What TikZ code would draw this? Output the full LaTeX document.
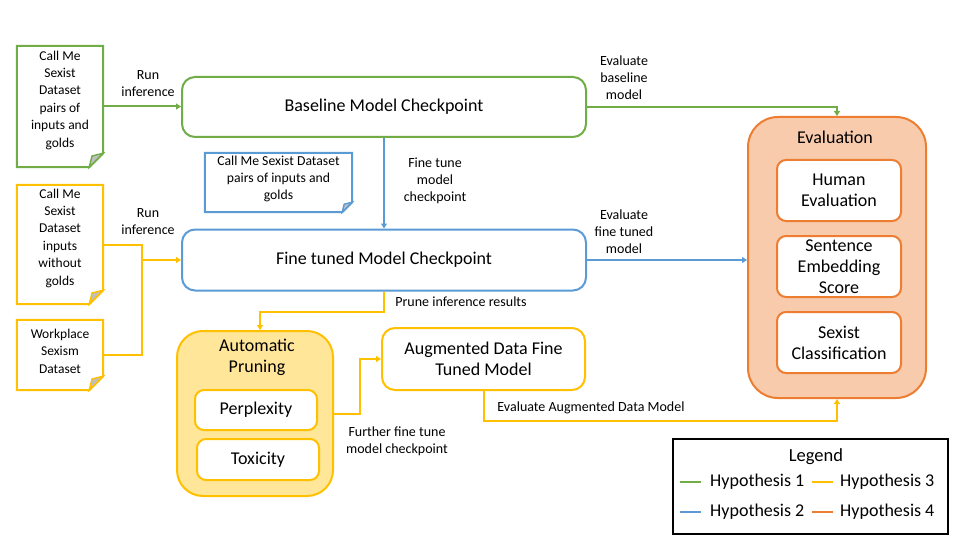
\documentclass[tikz,border=0pt]{standalone}
\usepackage{fontspec}
\setmainfont{Carlito}
\usetikzlibrary{arrows.meta}
\definecolor{cgreen}{HTML}{70AD47}
\definecolor{cblue}{HTML}{5B9BD5}
\definecolor{cyellow}{HTML}{FFC000}
\definecolor{corange}{HTML}{ED7D31}
\definecolor{cyfill}{HTML}{FFE699}
\definecolor{cofill}{HTML}{F8CBAD}
\definecolor{cfold}{HTML}{BFBFBF}
\tikzset{
  bigtxt/.style={font=\fontsize{18}{21}\selectfont, align=center},
  lbl/.style={font=\fontsize{14}{17}\selectfont, align=center, inner sep=0pt},
  doctxt/.style={font=\fontsize{13.5}{17.4}\selectfont, align=center, inner sep=0pt},
  legtxt/.style={font=\fontsize{18}{21}\selectfont, anchor=west, inner sep=0pt},
  mbox/.style={line width=2pt, rounded corners=13pt, fill=white, inner sep=0pt, bigtxt},
  sbox/.style={line width=2pt, rounded corners=9pt, fill=white, inner sep=0pt, bigtxt},
  cont/.style={line width=2pt, inner sep=0pt},
  conn/.style={line width=2pt},
  arr/.style={conn, -{Triangle[width=6pt,length=5pt]}},
}
\newcommand{\docshape}[3]{% node, colour, fold
  \draw[#2, line width=2pt, fill=white] (#1.north west) -- (#1.north east) -- ([yshift=#3]#1.south east) -- ([xshift=-#3]#1.south east) -- (#1.south west) -- cycle;
  \draw[#2, line width=1.4pt, fill=cfold] ([yshift=#3]#1.south east) -- ([xshift=-#3]#1.south east) -- ([xshift=-0.8*#3, yshift=0.8*#3]#1.south east) -- cycle;
}
\begin{document}
\begin{tikzpicture}[x=1pt, y=-1pt]
\useasboundingbox (0,0) rectangle (960,540);

% documents (frames)
\node[minimum width=86pt, minimum height=121pt, inner sep=0pt] (d1) at (60,106.5) {};
\node[minimum width=86pt, minimum height=119pt, inner sep=0pt] (d2) at (60,244.5) {};
\node[minimum width=86pt, minimum height=70pt, inner sep=0pt] (d3) at (60,355) {};
\node[minimum width=147pt, minimum height=59pt, inner sep=0pt] (d4) at (278.5,182.5) {};
\docshape{d1}{cgreen}{14pt}
\docshape{d2}{cyellow}{14pt}
\docshape{d3}{cyellow}{14pt}
\docshape{d4}{cblue}{10pt}
\node[doctxt] (t1) at (60,100) {Call Me\\Sexist\\Dataset\\pairs of\\inputs and\\golds};
\node[doctxt] (t2) at (60,238) {Call Me\\Sexist\\Dataset\\inputs\\without\\golds};
\node[doctxt] (t3) at (60,351) {Workplace\\Sexism\\Dataset};
\node[lbl, font=\fontsize{13.7}{17}\selectfont] (t4) at (278.5,179) {Call Me Sexist Dataset\\pairs of inputs and\\golds};

% main boxes
\node[mbox, draw=cgreen, minimum width=404pt, minimum height=60pt] (base) at (384,107) {Baseline Model Checkpoint};
\node[mbox, draw=cblue, minimum width=404pt, minimum height=61pt] (ft) at (384,260) {Fine tuned Model Checkpoint};
\node[mbox, draw=cyellow, minimum width=203pt, minimum height=62pt] (aug) at (483.5,359) {Augmented Data Fine\\Tuned Model};

% pruning container
\node[cont, draw=cyellow, fill=cyfill, rounded corners=26pt, minimum width=156pt, minimum height=165pt] (prun) at (255,413.5) {};
\node[bigtxt, inner sep=0pt] (prunt) at (257,357) {Automatic\\Pruning};
\node[sbox, draw=cyellow, minimum width=122pt, minimum height=40pt] (perp) at (256,410) {Perplexity};
\node[sbox, draw=cyellow, minimum width=122pt, minimum height=41pt] (tox) at (258,459.5) {Toxicity};

% evaluation container
\node[cont, draw=corange, fill=cofill, rounded corners=30pt, minimum width=178pt, minimum height=281pt] (eval) at (837,257.5) {};
\node[bigtxt, inner sep=0pt] (evalt) at (835,137) {Evaluation};
\node[sbox, draw=corange, minimum width=124pt, minimum height=61pt] (hum) at (839,190.5) {Human\\Evaluation};
\node[sbox, draw=corange, minimum width=124pt, minimum height=61pt] (sent) at (839,266.5) {Sentence\\Embedding\\Score};
\node[sbox, draw=corange, minimum width=124pt, minimum height=61pt] (sex) at (839,342.5) {Sexist\\Classification};

% connectors
\draw[arr, cgreen] (d1.east) -- (d1.east -| base.west);
\draw[arr, cgreen] (base.east) -| (eval.north);
\draw[arr, cblue] (base.south) -- (ft.north);
\draw[arr, cblue] (ft.east) -- (ft.east -| eval.west);
\coordinate (j) at (142,0);
\draw[conn, cyellow] (d2.east) -- (d2.east -| j) -- (d3.east -| j) -- (d3.east);
\draw[arr, cyellow] (ft.west -| j) -- (ft.west);
\draw[arr, cyellow] (ft.south) -- ++(0,20) -| ([xshift=5pt]prun.north);
\draw[arr, cyellow] (prun.east) -- ++(26,0) |- (aug.west);
\draw[arr, cyellow] (aug.south) -- ++(0,30) -| (eval.south);

% labels
\node[lbl] (l1) at (148,84) {Run\\inference};
\node[lbl] (l2) at (624,78) {Evaluate\\baseline\\model};
\node[lbl] (l3) at (435,181) {Fine tune\\model\\checkpoint};
\node[lbl] (l4) at (624,232) {Evaluate\\fine tuned\\model};
\node[lbl] (l5) at (148,222) {Run\\inference};
\node[lbl] (l6) at (461,302) {Prune inference results};
\node[lbl] (l7) at (397,441) {Further fine tune\\model checkpoint};
\node[lbl] (l8) at (591,408) {Evaluate Augmented Data Model};

% legend
\node[draw=black, line width=2pt, minimum width=275pt, minimum height=95pt, inner sep=0pt] (leg) at (810,486) {};
\node[font=\fontsize{18.5}{21}\selectfont, inner sep=0pt] (legt) at (816,457) {Legend};
\coordinate (r1a) at (680,482); \coordinate (r1b) at (701,482);
\coordinate (r2a) at (812,482); \coordinate (r2b) at (833,482);
\coordinate (r3a) at (680,512); \coordinate (r3b) at (701,512);
\coordinate (r4a) at (812,512); \coordinate (r4b) at (833,512);
\draw[conn, cgreen] (r1a) -- (r1b);
\draw[conn, cyellow] (r2a) -- (r2b);
\draw[conn, cblue] (r3a) -- (r3b);
\draw[conn, corange] (r4a) -- (r4b);
\node[legtxt] (h1) at (710,482) {Hypothesis 1};
\node[legtxt] (h3) at (840,482) {Hypothesis 3};
\node[legtxt] (h2) at (710,512) {Hypothesis 2};
\node[legtxt] (h4) at (840,512) {Hypothesis 4};
\end{tikzpicture}
\end{document}
